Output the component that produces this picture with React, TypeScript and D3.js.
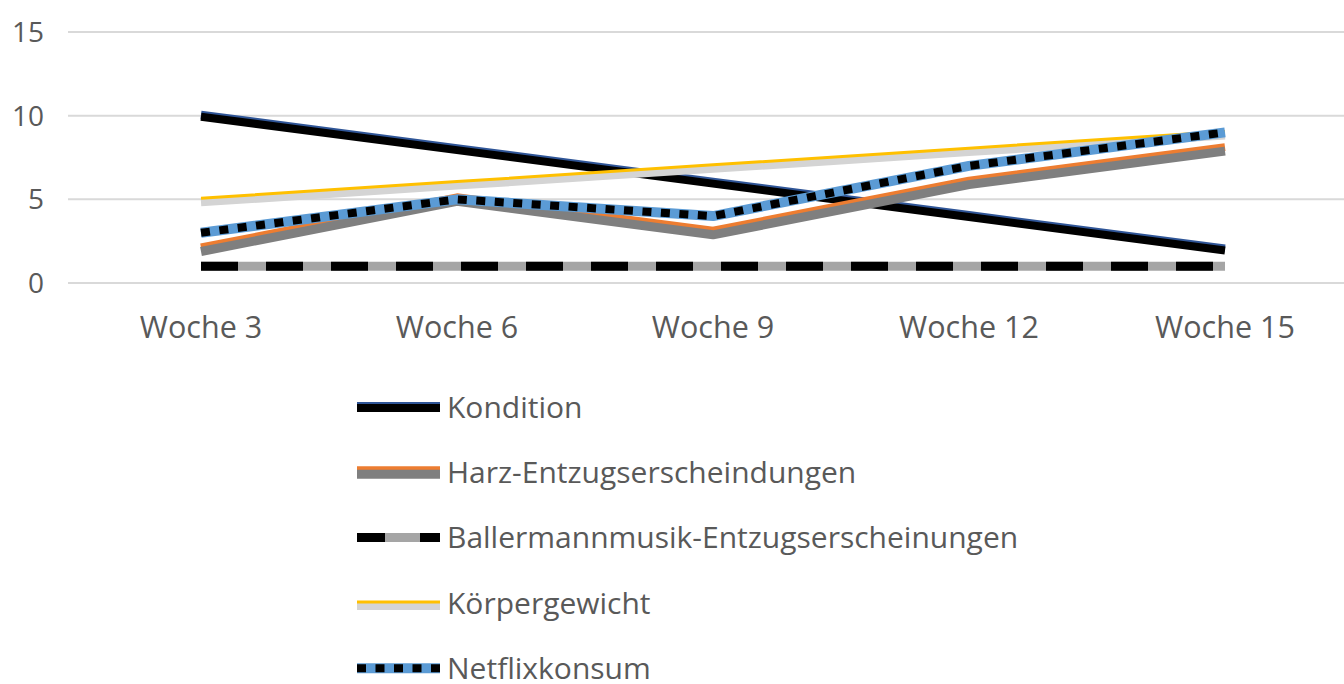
import React from "react";
import * as d3 from "d3";

const categories = ["Woche 3", "Woche 6", "Woche 9", "Woche 12", "Woche 15"];
const yTicks = [0, 5, 10, 15];

const kondition = [10, 8, 6, 4, 2];
const harz = [2, 5, 3, 6, 8];
const ballermann = [1, 1, 1, 1, 1];
const koerpergewicht = [5, 6, 7, 8, 9];
const netflix = [3, 5, 4, 7, 9];

const seriesNames = [
  "Kondition",
  "Harz-Entzugserscheindungen",
  "Ballermannmusik-Entzugserscheinungen",
  "Körpergewicht",
  "Netflixkonsum",
];

type Stroke = { color: string; width: number; dy: number; dash?: string };

const styles: Stroke[][] = [
  [
    { color: "#2f5597", width: 8, dy: -1 },
    { color: "#000000", width: 8, dy: 1 },
  ],
  [
    { color: "#ed7d31", width: 8, dy: -2 },
    { color: "#7f7f7f", width: 9, dy: 2 },
  ],
  [
    { color: "#a5a5a5", width: 9, dy: 0 },
    { color: "#000000", width: 9, dy: 0, dash: "37 28" },
  ],
  [
    { color: "#d4d4d4", width: 8, dy: 3 },
    { color: "#ffc000", width: 3, dy: -1 },
  ],
  [
    { color: "#5b9bd5", width: 10, dy: 0 },
    { color: "#000000", width: 8, dy: 0, dash: "9 9.5" },
  ],
];

const seriesData = [kondition, harz, ballermann, koerpergewicht, netflix];

const FONT = "'Open Sans', 'Noto Sans', sans-serif";
const TEXT = "#595959";

export default function App() {
  const x = d3.scalePoint<string>().domain(categories).range([201, 1225]);
  const y = d3.scaleLinear().domain([0, 15]).range([283, 32]);

  const legendX0 = 357;
  const legendX1 = 440;
  const legendY0 = 407;
  const legendStep = 65.3;

  return (
    <svg
      width={1344}
      height={684}
      style={{ position: "absolute", left: 0, top: 0, background: "#fff" }}
    >
      {yTicks.map((t) => (
        <g key={t}>
          <line x1={68} x2={1344} y1={y(t)} y2={y(t)} stroke="#d9d9d9" strokeWidth={2} />
          <text
            x={44}
            y={y(t)}
            dy="0.36em"
            textAnchor="end"
            fontFamily={FONT}
            fontSize={28}
            fill={TEXT}
          >
            {t}
          </text>
        </g>
      ))}
      {categories.map((c) => (
        <text
          key={c}
          x={x(c)}
          y={338}
          textAnchor="middle"
          fontFamily={FONT}
          fontSize={30.5}
          fill={TEXT}
        >
          {c}
        </text>
      ))}
      {seriesData.map((vals, si) =>
        styles[si].map((s, k) => {
          const line = d3
            .line<number>()
            .x((_, i) => x(categories[i]) as number)
            .y((v) => y(v) + s.dy);
          return (
            <path
              key={`${si}-${k}`}
              d={line(vals) || ""}
              fill="none"
              stroke={s.color}
              strokeWidth={s.width}
              strokeDasharray={s.dash}
              strokeLinejoin="round"
            />
          );
        })
      )}
      {seriesNames.map((name, si) => {
        const ly = legendY0 + si * legendStep;
        return (
          <g key={name}>
            {styles[si].map((s, k) => (
              <line
                key={k}
                x1={legendX0}
                x2={legendX1}
                y1={ly + s.dy}
                y2={ly + s.dy}
                stroke={s.color}
                strokeWidth={s.width}
                strokeDasharray={s.dash ? (si === 2 ? "28 35 20" : s.dash) : undefined}
              />
            ))}
            <text
              x={447}
              y={ly}
              dy="0.36em"
              fontFamily={FONT}
              fontSize={30}
              fill={TEXT}
            >
              {name}
            </text>
          </g>
        );
      })}
    </svg>
  );
}
